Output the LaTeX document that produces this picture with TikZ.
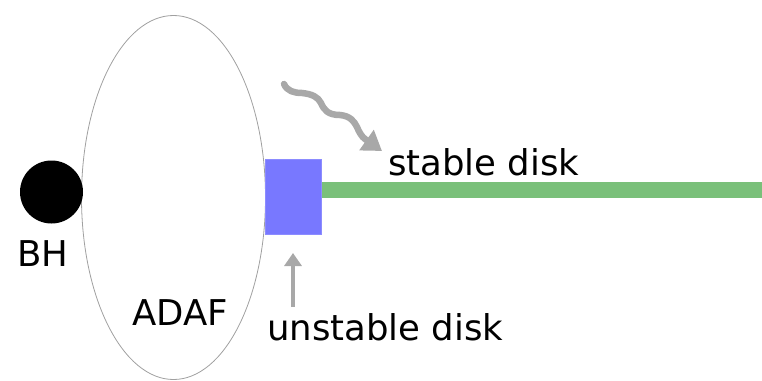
\documentclass[tikz,border=0pt]{standalone}
\usepackage{fontspec}
\setmainfont{DejaVu Sans}
\usetikzlibrary{arrows.meta,shapes.geometric}
\definecolor{diskblue}{RGB}{120,120,255}
\definecolor{diskgreen}{RGB}{122,192,122}
\definecolor{arrowgray}{RGB}{168,168,168}
\definecolor{edgegray}{RGB}{160,160,160}
\tikzset{
  lbl/.style={anchor=base west, inner sep=0pt, font=\fontsize{35.5}{40}\selectfont},
  pointer/.style={draw=arrowgray, line width=4pt, -{Triangle[width=17pt,length=13pt]}},
  wavy/.style={draw=arrowgray, line width=6.5pt, line cap=round, -{Triangle[width=24pt,length=19pt]}},
}
\begin{document}
\begin{tikzpicture}[x=1pt,y=-1pt]
\useasboundingbox (0,0) rectangle (762,380);
% advection-dominated flow around the hole
\node (adafshape) [draw=edgegray, line width=0.8pt, ellipse, minimum width=184pt, minimum height=364pt, inner sep=0pt] at (173.5,197.5) {};
% black hole
\node (bhdisc) [circle, fill=black, minimum size=63pt, inner sep=0pt] at (51.5,192) {};
% thin disk, unstable inner part and stable outer part
\node (stablebar) [fill=diskgreen, anchor=west, minimum width=441pt, minimum height=16pt, inner sep=0pt] at (321,190) {};
\node (unstablebox) [fill=diskblue, draw=diskblue!85!white, line width=0.6pt, minimum width=56pt, minimum height=75pt, inner sep=0pt] at (293,196.5) {};
% labels
\node (bhlabel) [lbl] at (17,266) {BH};
\node (adaflabel) [lbl] at (132,325) {ADAF};
\node (stablelabel) [lbl] at (388,175) {stable disk};
\node (unstablelabel) [lbl] at (267,340) {unstable disk};
% pointers
\coordinate (uptail) at (293,307);
\coordinate (uphead) at (293,253);
\draw[pointer] (uptail) -- (uphead);
\coordinate (wavestart) at (284,84);
\coordinate (wavetip) at (382,151);
\draw[wavy] (wavestart) .. controls (287,91) and (294,93) .. (302,93)
  .. controls (312,94) and (318,97) .. (321,103)
  .. controls (324,110) and (328,115) .. (340,115)
  .. controls (350,116) and (354,121) .. (357,127)
  .. controls (359,132) and (362,137) .. (365,139)
  -- (wavetip);
\end{tikzpicture}
\end{document}
